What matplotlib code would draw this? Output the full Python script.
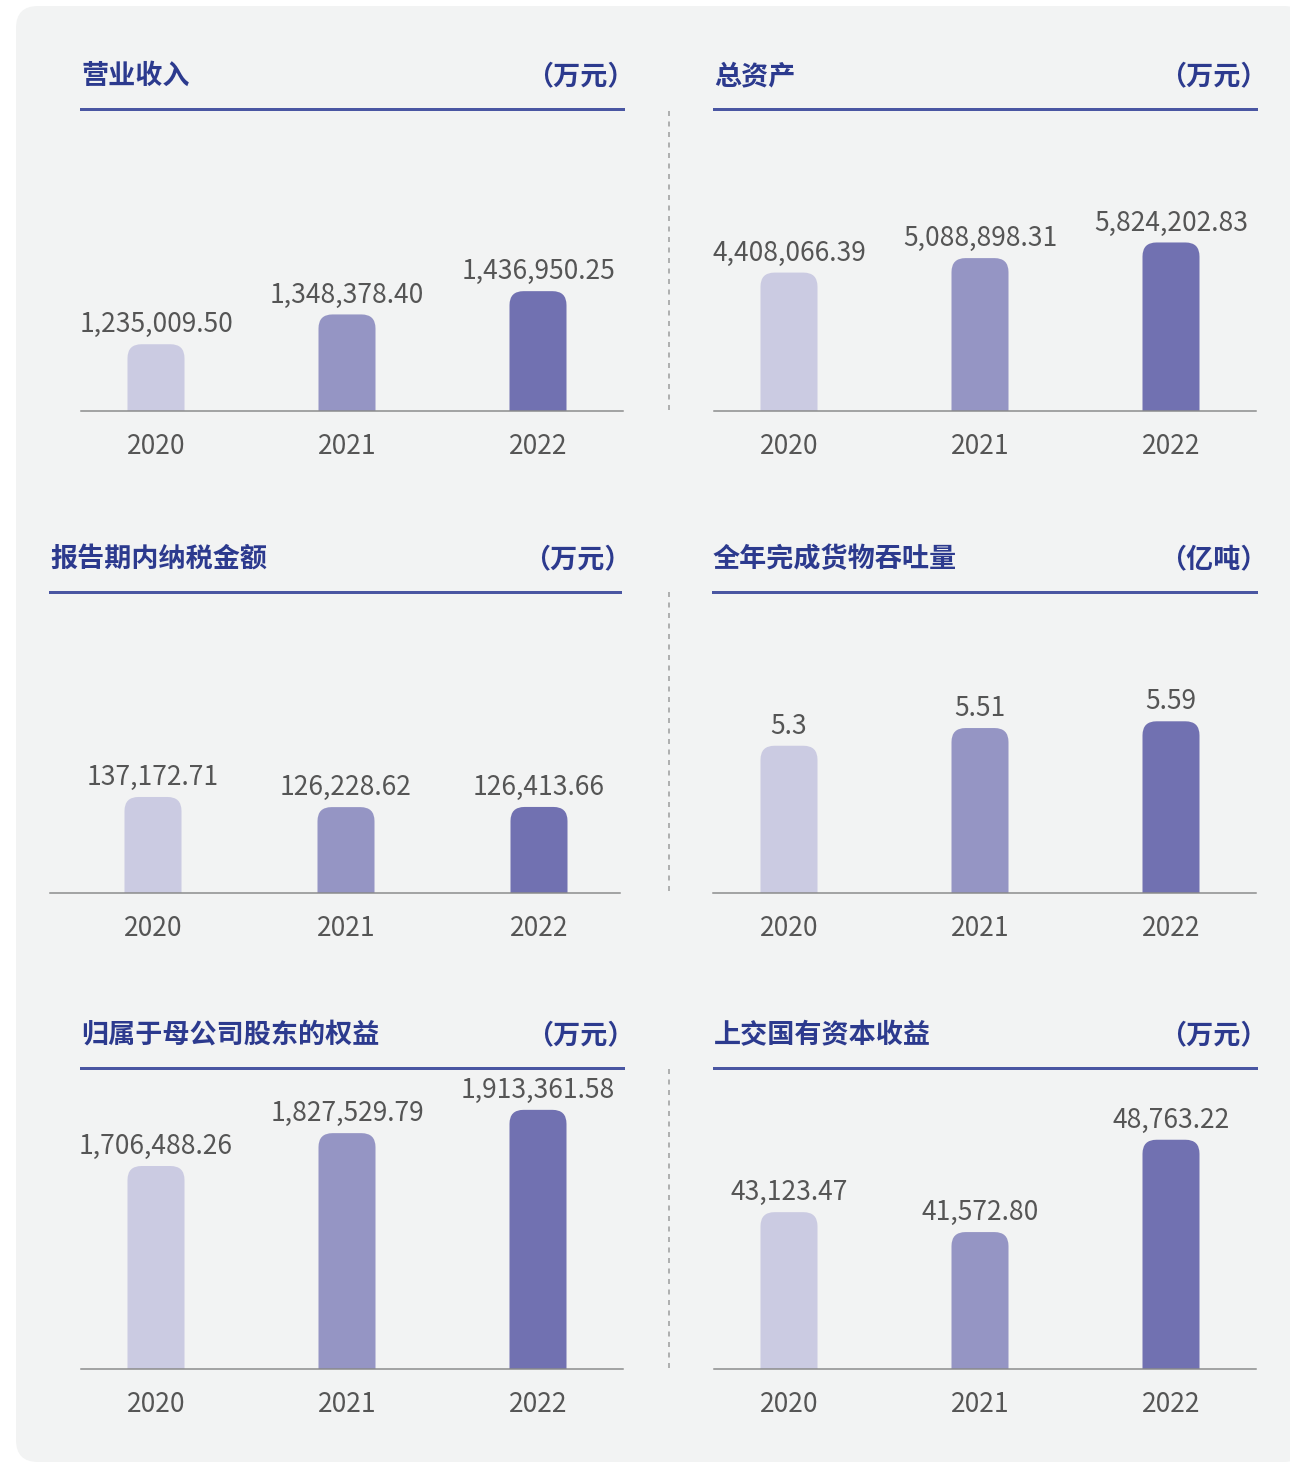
"""财务与经营指标 · 2020–2022 三年柱状对比（六宫格）。"""

import matplotlib

matplotlib.use("Agg")
import matplotlib.pyplot as plt
from matplotlib.lines import Line2D
from matplotlib.patches import FancyBboxPatch

plt.rcParams["font.family"] = ["Noto Sans CJK SC", "DejaVu Sans"]
plt.rcParams["lines.scale_dashes"] = False

W, H = 1290, 1464
DPI = 100

years = ["2020", "2021", "2022"]

titles = ["营业收入", "总资产", "报告期内纳税金额", "全年完成货物吞吐量", "归属于母公司股东的权益", "上交国有资本收益"]
units = ["（万元）", "（万元）", "（万元）", "（亿吨）", "（万元）", "（万元）"]

revenue = [1235009.50, 1348378.40, 1436950.25]
total_assets = [4408066.39, 5088898.31, 5824202.83]
tax_paid = [137172.71, 126228.62, 126413.66]
throughput = [5.3, 5.51, 5.59]
equity = [1706488.26, 1827529.79, 1913361.58]
state_dividend = [43123.47, 41572.80, 48763.22]

series = [revenue, total_assets, tax_paid, throughput, equity, state_dividend]

# 每个小图的纵轴可视范围（原图柱子不从 0 起）
y_ranges = [
    (981000, 2130000),
    (-2100000, 12100000),
    (33500, 358500),
    (3.553, 7.124),
    (958800, 2067500),
    (30910, 54351),
]

BAR_COLORS = ["#CBCBE2", "#9595C4", "#7171B1"]
TITLE_COLOR = "#2C3A8E"
RULE_COLOR = "#4A56A2"
TEXT_COLOR = "#555555"
BASE_COLOR = "#8A8A8A"
PANEL_BG = "#F2F3F3"

# 版面（像素）：轴区 left, top, right, bottom 以及三根柱子的中心 x
LAYOUT = [
    ((81, 109, 623, 411), (156, 347, 538)),
    ((714, 109, 1256, 411), (789, 980, 1171)),
    ((50, 592, 620, 893), (153, 346, 539)),
    ((713, 592, 1256, 893), (789, 980, 1171)),
    ((81, 1068, 623, 1369), (156, 347, 538)),
    ((714, 1068, 1256, 1369), (789, 980, 1171)),
]
BAR_W_PX = 57
RADIUS_PX = 14
PT = 72 / DPI  # 像素 -> 磅


def fmt_value(v, idx):
    if idx == 3:
        return f"{v:g}"
    return f"{v:,.2f}"


def draw_panel(fig, idx):
    (l, t, r, b), centers = LAYOUT[idx]
    ax = fig.add_axes([l / W, 1 - b / H, (r - l) / W, (b - t) / H])
    ax.set_facecolor("none")

    ppx = centers[1] - centers[0]  # 每个类别间距的像素
    ax.set_xlim(-(centers[0] - l) / ppx, 2 + (r - centers[2]) / ppx)
    lo, hi = y_ranges[idx]
    ax.set_ylim(lo, hi)
    ppy = (b - t) / (hi - lo)

    vals = series[idx]
    xs = list(range(len(years)))
    extra = RADIUS_PX / ppy
    bars = ax.bar(xs, [v - (lo - extra) for v in vals], bottom=lo - extra,
                  width=BAR_W_PX / ppx, color=BAR_COLORS)
    for rect, color in zip(bars.patches, BAR_COLORS):
        rect.set_visible(False)
        ax.add_patch(FancyBboxPatch(
            (rect.get_x(), rect.get_y()), rect.get_width(), rect.get_height(),
            boxstyle=f"round,pad=0,rounding_size={RADIUS_PX / ppx}",
            mutation_aspect=ppx / ppy, facecolor=color, edgecolor="none",
        ))

    for x, v in zip(xs, vals):
        ax.annotate(fmt_value(v, idx), (x, v), xytext=(0, 12 * PT), textcoords="offset points",
                    ha="center", va="baseline", fontsize=19, color=TEXT_COLOR)
        ax.annotate(years[x], (x, lo), xytext=(0, -43 * PT), textcoords="offset points",
                    ha="center", va="baseline", fontsize=19, color=TEXT_COLOR)

    ax.set_xticks([])
    ax.set_yticks([])
    for side in ("left", "right"):
        ax.spines[side].set_visible(False)
    ax.spines["top"].set_color(RULE_COLOR)
    ax.spines["top"].set_linewidth(3 * PT)
    ax.spines["bottom"].set_color(BASE_COLOR)
    ax.spines["bottom"].set_linewidth(1.5 * PT)

    ax.annotate(titles[idx], (0, 1), xycoords="axes fraction", xytext=(0, 33 * PT),
                textcoords="offset points", ha="left", va="center",
                fontsize=19.5, fontweight="bold", color=TITLE_COLOR)
    ax.annotate(units[idx], (1, 1), xycoords="axes fraction", xytext=(12 * PT, 33 * PT),
                textcoords="offset points", ha="right", va="center",
                fontsize=19.5, fontweight="bold", color=TITLE_COLOR)
    return ax


fig = plt.figure(figsize=(W / DPI, H / DPI), dpi=DPI)
fig.patch.set_facecolor("white")

# 浅灰圆角底板（右侧被裁切）
fig.add_artist(FancyBboxPatch(
    (0.16, 0.02), 12.9, 14.56, boxstyle="round,pad=0,rounding_size=0.22",
    transform=fig.dpi_scale_trans, facecolor=PANEL_BG, edgecolor="none", zorder=0,
))

for i in range(len(series)):
    draw_panel(fig, i)

# 中间的竖向虚线
for top, bot in [(111, 410), (592, 893), (1069, 1370)]:
    fig.add_artist(Line2D([668.5 / W, 668.5 / W], [1 - top / H, 1 - bot / H],
                          color="#9A9A9A", linewidth=1.5 * PT, dashes=(5 * PT, 5.5 * PT)))

fig.savefig("out.png", dpi=DPI, facecolor="white")
